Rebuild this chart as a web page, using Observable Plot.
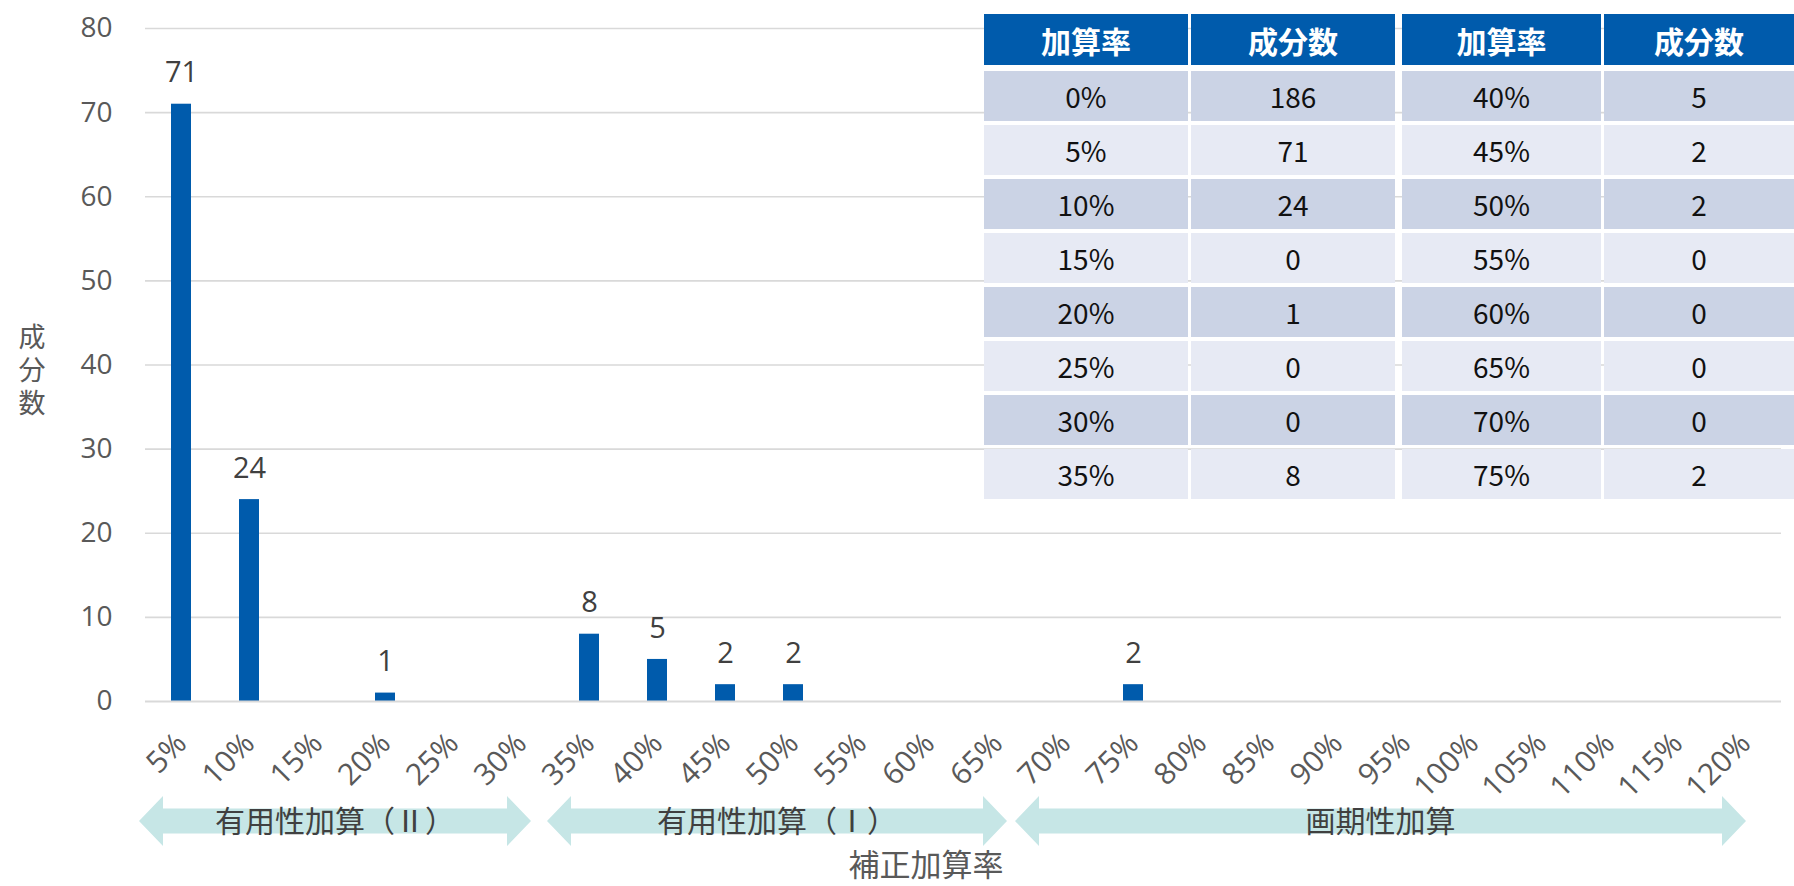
<!DOCTYPE html>
<html>
<head>
<meta charset="utf-8">
<script src="https://cdn.jsdelivr.net/npm/d3@7"></script>
<script src="https://cdn.jsdelivr.net/npm/@observablehq/plot@0.6"></script>
<style>
  html, body { margin: 0; padding: 0; background: #fff; overflow: hidden; }
  #wrap { position: relative; width: 1794px; height: 886px; font-family: "Open Sans", "Noto Sans CJK JP", sans-serif; }
  #table { position: absolute; left: 984px; top: 14px; display: grid;
    grid-template-columns: 204px 204px 203px 190px; column-gap: 3px; row-gap: 4px;
    font-family: "Noto Sans CJK JP", sans-serif; font-size: 28px; color: #111; }
  #table div { display: flex; align-items: center; justify-content: center; height: 50px; }
  #table .h { background: #005BAC; color: #fff; font-weight: 700; font-size: 30px; height: 51px; margin-bottom: 2px; }
  #table .d { background: #CBD3E5; }
  #table .l { background: #E7EAF4; }
  #table .gap { margin-left: 4px; }
</style>
</head>
<body>
<div id="wrap"><div id="chart"></div><div id="table"></div></div>
<script>
// ---- data ----
const rates = ["0%","5%","10%","15%","20%","25%","30%","35%","40%","45%","50%","55%","60%","65%","70%","75%","80%","85%","90%","95%","100%","105%","110%","115%","120%"];
const counts = [186,71,24,0,1,0,0,8,5,2,2,0,0,0,0,2,0,0,0,0,0,0,0,0,0];
const tableHeaders = ["加算率","成分数"];
const tableRowsPerColumn = 8;
const groupLabels = ["有用性加算（Ⅱ）","有用性加算（Ⅰ）","画期性加算"];
const groupStarts = ["5%","35%","70%"];
const groupEnds = ["30%","65%","120%"];
const yTitle = "成分数";
const xTitle = "補正加算率";

// ---- chart ----
const chartRates = rates.slice(1);
const data = chartRates.map((r, i) => ({rate: r, count: counts[i + 1]}));

const plot = Plot.plot({
  width: 1794, height: 886,
  marginLeft: 145, marginRight: 13, marginTop: 28, marginBottom: 185,
  style: {fontFamily: "'Open Sans', 'Noto Sans CJK JP', sans-serif", background: "transparent"},
  x: {domain: chartRates, paddingInner: 0.7, paddingOuter: 0.35, label: null},
  y: {domain: [0, 80], label: null},
  marks: [
    Plot.gridY(d3.range(10, 81, 10), {stroke: "#d9d9d9", strokeOpacity: 1, strokeWidth: 1.6}),
    Plot.barY(data, {x: "rate", y: "count", fill: "#005BAC"}),
    Plot.ruleY([0], {stroke: "#d9d9d9", strokeWidth: 2.2}),
    Plot.text(data.filter(d => d.count > 0), {x: "rate", y: "count", text: d => String(d.count), dy: -31, fontSize: 29, fill: "#404040"}),
    Plot.axisY(d3.range(0, 81, 10), {tickSize: 0, tickPadding: 33, fontSize: 28, fill: "#595959"}),
    Plot.axisX({tickSize: 0, tickPadding: 37, tickRotate: -45, fontSize: 30, fill: "#595959"})
  ]
});
document.getElementById("chart").appendChild(plot);

// arrows + titles built from the x scale
const xs = plot.scale("x");
const step = xs.step, bw = xs.bandwidth;
const center = v => xs.apply(v) + bw / 2;
const svg = d3.select(plot);
const cy = 821, hh = 25, sh = 12.5, hl = 24;
const arrowNudge = [[0, 0], [0, 0], [-8, -9]]; // layout tweaks (px) for left/right tips
const g = svg.append("g");
groupLabels.forEach((lab, i) => {
  const L = center(groupStarts[i]) - step / 2 - 8 + arrowNudge[i][0];
  const R = center(groupEnds[i]) + 10 + arrowNudge[i][1];
  const p = d3.path();
  p.moveTo(L, cy); p.lineTo(L + hl, cy - hh); p.lineTo(L + hl, cy - sh);
  p.lineTo(R - hl, cy - sh); p.lineTo(R - hl, cy - hh); p.lineTo(R, cy);
  p.lineTo(R - hl, cy + hh); p.lineTo(R - hl, cy + sh); p.lineTo(L + hl, cy + sh);
  p.lineTo(L + hl, cy + hh); p.closePath();
  g.append("path").attr("d", p.toString()).attr("fill", "#C6E6E6");
  g.append("text").attr("x", (L + R) / 2).attr("y", cy).attr("dy", "0.35em")
    .attr("text-anchor", "middle").attr("font-size", 30).attr("fill", "#404040")
    .attr("font-family", "'Noto Sans CJK JP', sans-serif").text(lab);
});
// y title (vertical, upright characters)
svg.append("text").attr("x", 32).attr("y", 373).attr("text-anchor", "middle")
  .attr("writing-mode", "vertical-rl").attr("letter-spacing", 6)
  .attr("font-size", 27).attr("fill", "#595959")
  .attr("font-family", "'Noto Sans CJK JP', sans-serif").text(yTitle);
// x title
svg.append("text").attr("x", 926).attr("y", 865).attr("dy", "0.35em").attr("text-anchor", "middle")
  .attr("font-size", 31).attr("fill", "#595959").attr("font-family", "'Noto Sans CJK JP', sans-serif").text(xTitle);

// ---- table ----
const tbl = document.getElementById("table");
const cell = (txt, cls) => { const d = document.createElement("div"); d.className = cls; d.textContent = txt; tbl.appendChild(d); };
[0, 1].forEach(c => tableHeaders.forEach((h, j) => cell(h, "h" + (c === 1 && j === 0 ? " gap" : ""))));
for (let r = 0; r < tableRowsPerColumn; r++) {
  const cls = r % 2 === 0 ? "d" : "l";
  [0, 1].forEach(c => {
    const idx = c * tableRowsPerColumn + r;
    cell(rates[idx], cls + (c === 1 ? " gap" : ""));
    cell(String(counts[idx]), cls);
  });
}
</script>
</body>
</html>
